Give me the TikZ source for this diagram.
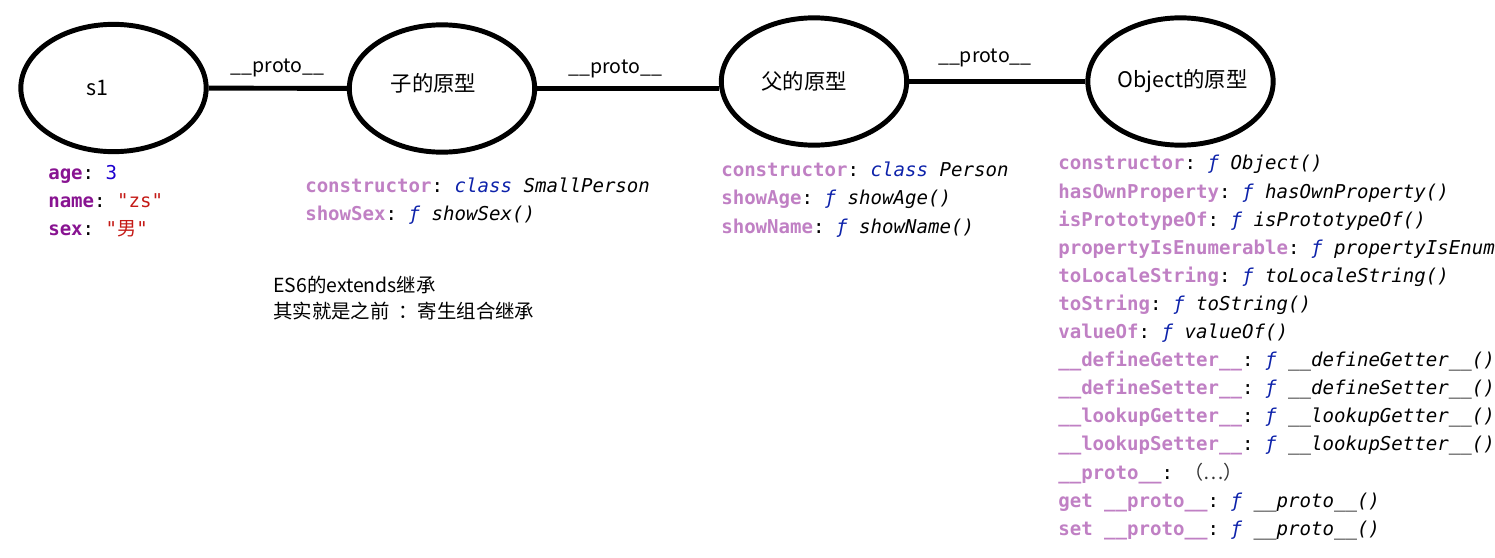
\documentclass[tikz,border=0pt]{standalone}
\usepackage{fontspec}
\setmainfont{Noto Sans CJK SC}
\setmonofont{DejaVu Sans Mono}
\newfontfamily\cjk{Noto Sans CJK SC}
\usetikzlibrary{shapes.geometric}
\definecolor{ownkey}{HTML}{881391}
\definecolor{protokey}{HTML}{C080C4}
\definecolor{numval}{HTML}{1C00CF}
\definecolor{strval}{HTML}{C41A16}
\definecolor{kwval}{HTML}{0D22AA}
\newcommand{\okey}[1]{\textbf{\textcolor{ownkey}{#1}}:}
\newcommand{\pkey}[1]{\textbf{\textcolor{protokey}{#1}}:}
\newcommand{\fnval}[1]{\textit{\textcolor{kwval}{ƒ} #1}}
\newcommand{\clsval}[1]{\textit{\textcolor{kwval}{class} #1}}
\begin{document}
\begin{tikzpicture}[x=0.75pt,y=-0.75pt,
  oval/.style={ellipse,draw,line width=3.7pt,minimum width=139pt,minimum height=95.5pt,inner sep=0pt},
  every label/.style={font=\fontsize{16bp}{19bp}\selectfont},
  link/.style={line width=3.7pt},
  tag/.style={yshift=15pt,font=\fontsize{14.6bp}{18bp}\selectfont},
  props/.style={anchor=north west,inner sep=0pt,align=left,font=\ttfamily\fontsize{14.26bp}{21bp}\selectfont},
  note/.style={anchor=north west,inner sep=0pt,align=left,font=\fontsize{14.5bp}{19.5bp}\selectfont}]
\useasboundingbox (0,0) rectangle (1495,557);
%prototype chain
\node[oval,label={[xshift=-12.4pt]center:s1}] (s1) at (113.5,88) {};
\node[oval,label={[xshift=-6.4pt,yshift=4pt]center:子的原型}] (zi) at (442,88.5) {};
\node[oval,label={[xshift=-7.5pt]center:父的原型}] (fu) at (814,81.5) {};
\node[oval,label={[xshift=1.5pt]center:Object的原型}] (obj) at (1180.5,81.5) {};
%links
\draw[link] (s1) -- node[tag]{\_\_proto\_\_} (zi);
\draw[link] (zi.east) -- node[tag,pos=0.43]{\_\_proto\_\_} (zi.east -| fu.west);
\draw[link] (fu) -- node[tag,pos=0.43,yshift=3pt]{\_\_proto\_\_} (obj);
%properties
\node[props] (s1props) at (48,159.4) {\strut\okey{age} \textcolor{numval}{3}\\
\okey{name} \textcolor{strval}{"zs"}\\
\okey{sex} \textcolor{strval}{"{\cjk 男}"}};
\node[props] (ziprops) at (305,172.4) {\strut\pkey{constructor} \clsval{SmallPerson}\\
\pkey{showSex} \fnval{showSex()}};
\node[props] (fuprops) at (721,156.9) {\strut\pkey{constructor} \clsval{Person}\\
\pkey{showAge} \fnval{showAge()}\\
\pkey{showName} \fnval{showName()}};
\node[props] (objprops) at (1058,150) {\strut\pkey{constructor} \fnval{Object()}\\
\pkey{hasOwnProperty} \fnval{hasOwnProperty()}\\
\pkey{isPrototypeOf} \fnval{isPrototypeOf()}\\
\pkey{propertyIsEnumerable} \fnval{propertyIsEnum}\\
\pkey{toLocaleString} \fnval{toLocaleString()}\\
\pkey{toString} \fnval{toString()}\\
\pkey{valueOf} \fnval{valueOf()}\\
\pkey{\_\_defineGetter\_\_} \fnval{\_\_defineGetter\_\_()}\\
\pkey{\_\_defineSetter\_\_} \fnval{\_\_defineSetter\_\_()}\\
\pkey{\_\_lookupGetter\_\_} \fnval{\_\_lookupGetter\_\_()}\\
\pkey{\_\_lookupSetter\_\_} \fnval{\_\_lookupSetter\_\_()}\\
\pkey{\_\_proto\_\_} {\cjk\textcolor{black!80}{（…）}}\\
\pkey{get \_\_proto\_\_} \fnval{\_\_proto\_\_()}\\
\pkey{set \_\_proto\_\_} \fnval{\_\_proto\_\_()}};
%note
\node[note] (memo) at (273,273.8) {\strut ES6的extends继承\\其实就是之前\hspace{0.45em}：寄生组合继承};
\end{tikzpicture}
\end{document}
